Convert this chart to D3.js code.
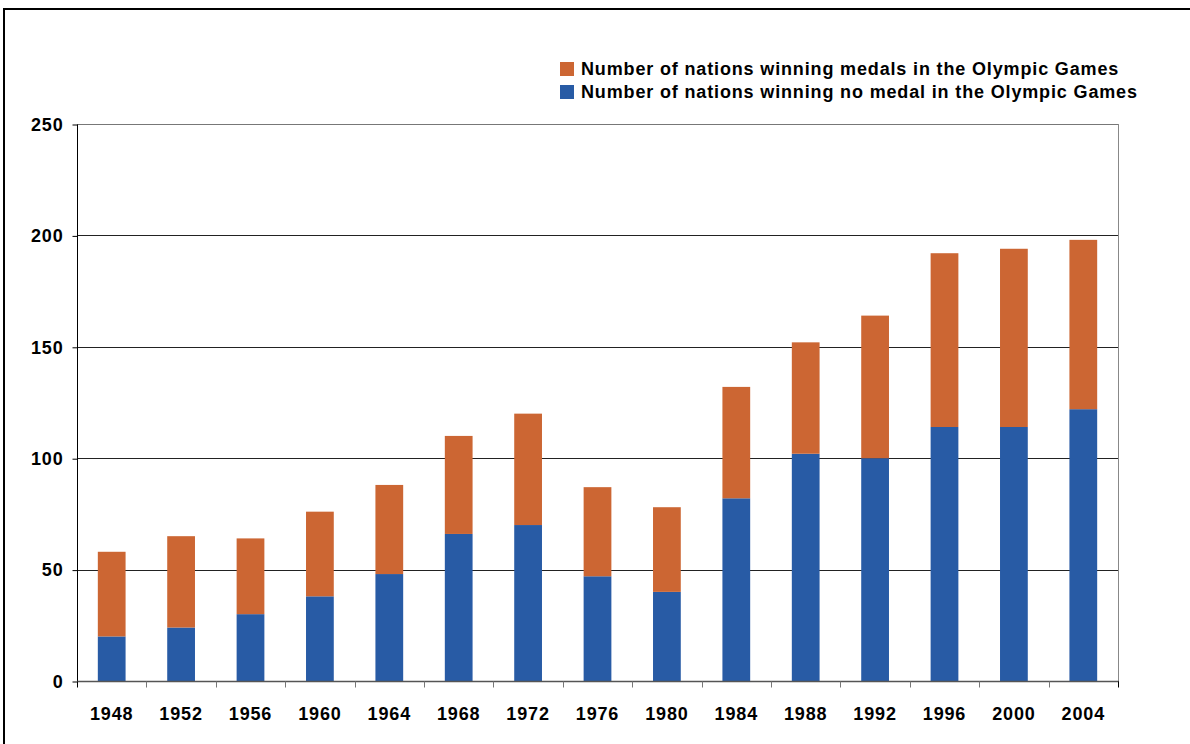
<!DOCTYPE html>
<html>
<head>
<meta charset="utf-8">
<script src="https://cdn.jsdelivr.net/npm/d3@7"></script>
<style>
  body { margin: 0; background: #fff; }
  svg text { font-family: "Liberation Sans", Arial, sans-serif; font-weight: bold; fill: #000; letter-spacing: 0.85px; }
</style>
</head>
<body>
<svg id="chart" width="1190" height="744"></svg>
<script>
// data
var years = ["1948", "1952", "1956", "1960", "1964", "1968", "1972", "1976", "1980", "1984", "1988", "1992", "1996", "2000", "2004"];
var noMedal = [20, 24, 30, 38, 48, 66, 70, 47, 40, 82, 102, 100, 114, 114, 122];
var medal = [38, 41, 34, 38, 40, 44, 50, 40, 38, 50, 50, 64, 78, 80, 76];
var yTicks = [0, 50, 100, 150, 200, 250];
var seriesNames = ["Number of nations winning medals in the Olympic Games", "Number of nations winning no medal in the Olympic Games"];

var colors = { medal: "#cc6633", noMedal: "#285ba5" };

var svg = d3.select("#chart");

// outer frame
svg.append("rect")
  .attr("x", 4).attr("y", 9).attr("width", 1220).attr("height", 800)
  .attr("fill", "none").attr("stroke", "#000").attr("stroke-width", 2);

var pLeft = 77, pRight = 1118, pTop = 124, pBottom = 681;

var x = d3.scaleBand().domain(years).range([pLeft, pRight]).paddingInner(0.6).paddingOuter(0.3);
var xb = d3.scaleBand().domain(years).range([pLeft, pRight]);
var y = d3.scaleLinear().domain([0, 250]).range([pBottom, pTop]);

// gridlines
svg.append("g")
  .selectAll("line")
  .data(yTicks.filter(function(d) { return d > 0; }))
  .enter().append("line")
    .attr("x1", pLeft).attr("x2", pRight)
    .attr("y1", function(d) { return Math.round(y(d)) + 0.5; })
    .attr("y2", function(d) { return Math.round(y(d)) + 0.5; })
    .attr("stroke", function(d) { return d == 250 ? "#777" : "#222"; })
    .attr("stroke-width", 1);

// plot area right border
svg.append("line")
  .attr("x1", pRight + 0.5).attr("x2", pRight + 0.5).attr("y1", pTop).attr("y2", pBottom)
  .attr("stroke", "#888");

// stacked bars
var table = years.map(function(yr, i) { return { year: yr, noMedal: noMedal[i], medal: medal[i] }; });
var stack = d3.stack().keys(["noMedal", "medal"]);
var layers = stack(table);

svg.append("g")
  .selectAll("g")
  .data(layers)
  .enter().append("g")
    .attr("fill", function(d) { return colors[d.key]; })
  .selectAll("rect")
  .data(function(d) { return d; })
  .enter().append("rect")
    .attr("x", function(d) { return x(d.data.year); })
    .attr("width", x.bandwidth())
    .attr("y", function(d) { return y(d[1]); })
    .attr("height", function(d) { return y(d[0]) - y(d[1]); });

// y axis
var yAxis = svg.append("g")
  .attr("transform", "translate(" + (pLeft + 0.5) + ",0.5)")
  .call(d3.axisLeft(y).tickValues(yTicks).tickSize(5).tickPadding(9));
yAxis.select(".domain").attr("stroke", "#000").attr("d", "M0," + pTop + "V" + pBottom);
yAxis.selectAll("line").attr("stroke", "#000");
yAxis.selectAll("text").style("font-size", "18px").attr("font-family", null).attr("font-size", null);

// x axis: ticks at category boundaries
var xAxisG = svg.append("g").attr("transform", "translate(0," + (pBottom + 0.5) + ")");
xAxisG.append("line").attr("x1", pLeft).attr("x2", pRight + 1).attr("stroke", "#555").attr("stroke-width", 1.5);
xAxisG.selectAll("line.tick")
  .data(years.concat(["end"]))
  .enter().append("line")
    .attr("class", "tick")
    .attr("x1", function(d, i) { return Math.round(pLeft + i * xb.step()) + 0.5; })
    .attr("x2", function(d, i) { return Math.round(pLeft + i * xb.step()) + 0.5; })
    .attr("y1", 0).attr("y2", 6)
    .attr("stroke", function(d, i) { return (i == 0 || i == years.length) ? "#000" : "#777"; });
xAxisG.selectAll("text")
  .data(years)
  .enter().append("text")
    .attr("x", function(d) { return xb(d) + xb.bandwidth() / 2; })
    .attr("y", 38)
    .attr("text-anchor", "middle")
    .style("font-size", "18px")
    .text(function(d) { return d; });

// legend
var legend = svg.append("g").attr("transform", "translate(560,62)");
var legendColors = [colors.medal, colors.noMedal];
seriesNames.forEach(function(name, i) {
  legend.append("rect").attr("x", 0).attr("y", i * 23).attr("width", 14).attr("height", 14).attr("fill", legendColors[i]);
  legend.append("text").attr("x", 21).attr("y", i * 23 + 13).style("font-size", "18px").text(name);
});
</script>
</body>
</html>
